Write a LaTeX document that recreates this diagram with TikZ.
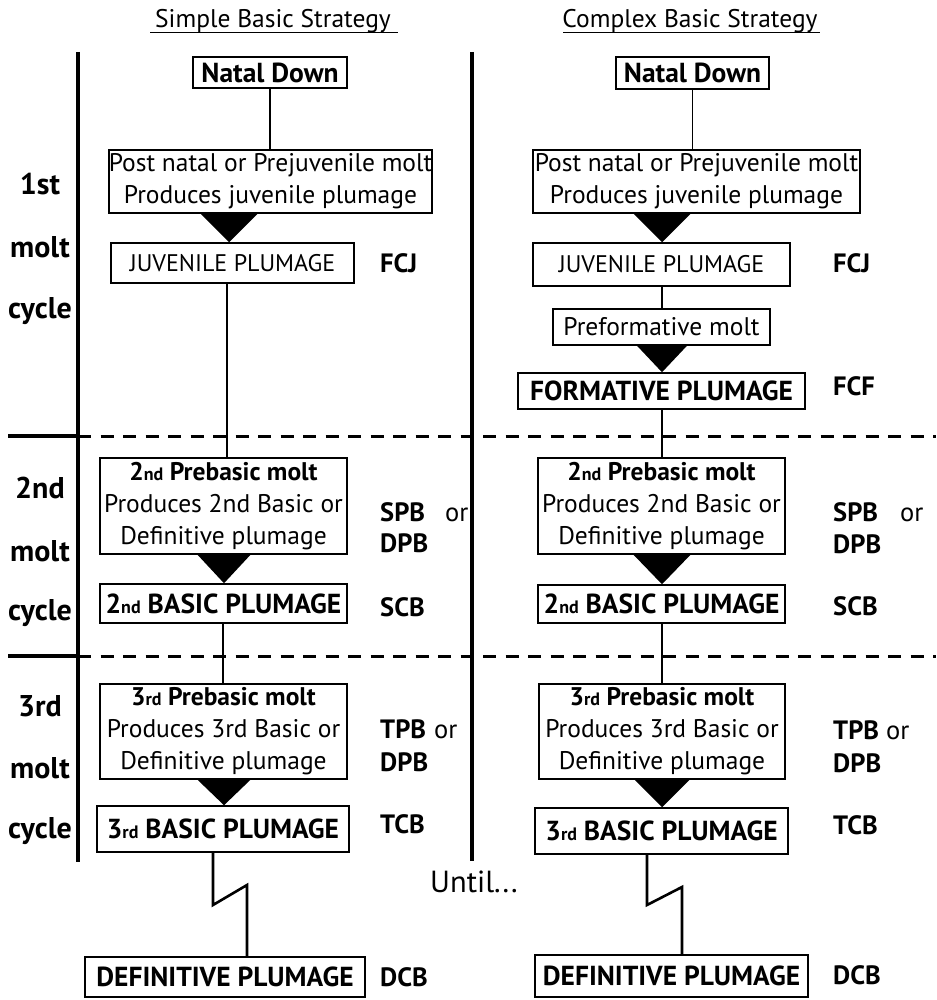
\documentclass[tikz,border=0pt]{standalone}
\usepackage{fontspec}
\setmainfont{PT Sans}
\usetikzlibrary{calc}
\newcommand\fsz[2]{\fontsize{#1}{#2}\selectfont}
\newcommand\ordn[2]{#1{\fsz{18}{18}#2}}
\newcommand\tri[4]{\fill ($(#3 |- #1.south)+(-#4,0)$) -- ($(#3 |- #1.south)+(#4,0)$) -- (#3 |- #2.north) -- cycle;}
\begin{document}
\begin{tikzpicture}[x=1pt,y=-1pt,
  box/.style={draw,line width=1.5pt,inner sep=0pt,align=center,font=\fsz{25.5}{32}},
  bbox/.style={box,font=\bfseries\fsz{27.5}{32}},
  capbox/.style={box,font=\fsz{24}{32}},
  lbl/.style={font=\bfseries\fsz{26.5}{30},anchor=base west,inner sep=0pt},
  orl/.style={font=\fsz{26.5}{30},anchor=base west,inner sep=0pt},
  cyc/.style={font=\bfseries\fsz{30}{30},anchor=base,inner sep=0pt},
  ttl/.style={font=\fsz{25.5}{28},anchor=base,inner sep=0pt},
  conn/.style={line width=1.3pt},
  zig/.style={line width=2.6pt},
  rulev/.style={line width=3.5pt},
  ruled/.style={line width=3pt,dash pattern=on 13pt off 9.5pt},
  ulin/.style={line width=1.8pt}]
\useasboundingbox (0,0) rectangle (936,1000);

% titles
\node[ttl] (t1) at (273,28) {Simple Basic Strategy};
\node[ttl] (t2) at (690,28) {Complex Basic Strategy};
\coordinate (u1a) at (150,32.5); \coordinate (u1b) at (398,32.5);
\coordinate (u2a) at (563,32.5); \coordinate (u2b) at (820,32.5);
\draw[ulin] (u1a) -- (u1b);
\draw[ulin] (u2a) -- (u2b);

% frame rules
\draw[rulev] (78,52) -- (78,862);
\draw[rulev] (472,52) -- (472,861);
\draw[rulev] (8,436) -- (78,436);
\draw[rulev] (8,656) -- (78,656);
\draw[ruled] (78,436) -- (936,436);
\draw[ruled] (78,656) -- (936,656);

% cycle labels
\node[cyc] (c1a) at (40,195) {1st};
\node[cyc] (c1b) at (40,257) {molt};
\node[cyc] (c1c) at (40,318) {cycle};
\node[cyc] (c2a) at (40,498) {2nd};
\node[cyc] (c2b) at (40,561) {molt};
\node[cyc] (c2c) at (40,620) {cycle};
\node[cyc] (c3a) at (40,716) {3rd};
\node[cyc] (c3b) at (40,778) {molt};
\node[cyc] (c3c) at (40,838) {cycle};

% left column boxes
\node[bbox,minimum width=154,minimum height=31] (nd1) at (270,72.5) {Natal Down};
\node[box,minimum width=323,minimum height=63] (pn1) at (270.5,181.5) {Post natal or Prejuvenile molt\\Produces juvenile plumage};
\node[capbox,minimum width=243,minimum height=40] (jv1) at (232.5,263) {JUVENILE PLUMAGE};
\node[box,minimum width=247,minimum height=96] (pb2L) at (223.5,506) {{\bfseries\ordn{2}{nd} Prebasic molt}\\Produces 2nd Basic or\\Definitive plumage};
\node[bbox,minimum width=247,minimum height=39] (bp2L) at (223.5,603.5) {\ordn{2}{nd} BASIC PLUMAGE};
\node[box,minimum width=247,minimum height=95] (pb3L) at (223.5,731.5) {{\bfseries\ordn{3}{rd} Prebasic molt}\\Produces 3rd Basic or\\Definitive plumage};
\node[bbox,minimum width=252,minimum height=46] (bp3L) at (223,829) {\ordn{3}{rd} BASIC PLUMAGE};
\node[bbox,minimum width=280,minimum height=40] (defL) at (225,977) {DEFINITIVE PLUMAGE};

% right column boxes
\node[bbox,minimum width=153,minimum height=32] (nd2) at (692.5,73) {Natal Down};
\node[box,minimum width=327,minimum height=63] (pn2) at (696.5,181.5) {Post natal or Prejuvenile molt\\Produces juvenile plumage};
\node[capbox,minimum width=257,minimum height=43] (jv2) at (661.5,264.5) {JUVENILE PLUMAGE};
\node[box,minimum width=217,minimum height=36] (pf) at (661.5,327) {Preformative molt};
\node[bbox,minimum width=287,minimum height=36] (fm) at (661.5,391) {FORMATIVE PLUMAGE};
\node[box,minimum width=247,minimum height=96] (pb2R) at (661.5,506) {{\bfseries\ordn{2}{nd} Prebasic molt}\\Produces 2nd Basic or\\Definitive plumage};
\node[bbox,minimum width=247,minimum height=38] (bp2R) at (661.5,604) {\ordn{2}{nd} BASIC PLUMAGE};
\node[box,minimum width=246,minimum height=95] (pb3R) at (662,731.5) {{\bfseries\ordn{3}{rd} Prebasic molt}\\Produces 3rd Basic or\\Definitive plumage};
\node[bbox,minimum width=253,minimum height=46] (bp3R) at (661.5,831) {\ordn{3}{rd} BASIC PLUMAGE};
\node[bbox,minimum width=273,minimum height=42] (defR) at (671.5,976) {DEFINITIVE PLUMAGE};

% side labels left
\node[lbl] (fcj1) at (380,272) {FCJ};
\node[lbl] (spb1) at (380,521.5) {SPB};
\node[orl] (or1) at (445,521.5) {or};
\node[lbl] (dpb1) at (380,552) {DPB};
\node[lbl] (scb1) at (380,616.5) {SCB};
\node[lbl] (tpb1) at (380,738) {TPB};
\node[orl] (or2) at (434,738) {or};
\node[lbl] (dpb2) at (380,771) {DPB};
\node[lbl] (tcb1) at (380,833) {TCB};
\node[lbl] (dcb1) at (380,986) {DCB};

% side labels right
\node[lbl] (fcj2) at (833,272) {FCJ};
\node[lbl] (fcf) at (833,395) {FCF};
\node[lbl] (spb2) at (833,521.5) {SPB};
\node[orl] (or3) at (900,521.5) {or};
\node[lbl] (dpb3) at (833,553) {DPB};
\node[lbl] (scb2) at (833,615.5) {SCB};
\node[lbl] (tpb2) at (833,739) {TPB};
\node[orl] (or4) at (886,739) {or};
\node[lbl] (dpb4) at (833,772) {DPB};
\node[lbl] (tcb2) at (833,834) {TCB};
\node[lbl] (dcb2) at (833,984) {DCB};

\node[font=\fsz{30.5}{32},anchor=base west,inner sep=0pt] (until) at (430,892) {Until...};

% stem x positions
\coordinate (sL) at (227,0);
\coordinate (sL2) at (223,0);
\coordinate (sR) at (662,0);
\coordinate (aL1) at (229,0);
\coordinate (aL2) at (224,0);

% connectors left
\draw[conn] (nd1.south) -- (nd1.south |- pn1.north);
\tri{pn1}{jv1}{aL1}{28.5}
\draw[conn] (sL |- jv1.south) -- (sL |- pb2L.north);
\tri{pb2L}{bp2L}{aL2}{26.5}
\draw[conn] (sL2 |- bp2L.south) -- (sL2 |- pb3L.north);
\tri{pb3L}{bp3L}{aL2}{26.5}
\coordinate (zL1) at (213,905);
\coordinate (zL2) at (247,885);
\draw[zig] (zL1 |- bp3L.south) -- (zL1) -- (zL2) -- (zL2 |- defL.north);

% connectors right
\draw[conn] (nd2.south) -- (nd2.south |- pn2.north);
\tri{pn2}{jv2}{sR}{28.5}
\draw[conn] (sR |- jv2.south) -- (sR |- pf.north);
\tri{pf}{fm}{sR}{25}
\draw[conn] (sR |- fm.south) -- (sR |- pb2R.north);
\tri{pb2R}{bp2R}{sR}{28.5}
\draw[conn] (sR |- bp2R.south) -- (sR |- pb3R.north);
\tri{pb3R}{bp3R}{sR}{27.5}
\coordinate (zR1) at (647,905);
\coordinate (zR2) at (682,887);
\draw[zig] (zR1 |- bp3R.south) -- (zR1) -- (zR2) -- (zR2 |- defR.north);
\end{tikzpicture}
\end{document}
